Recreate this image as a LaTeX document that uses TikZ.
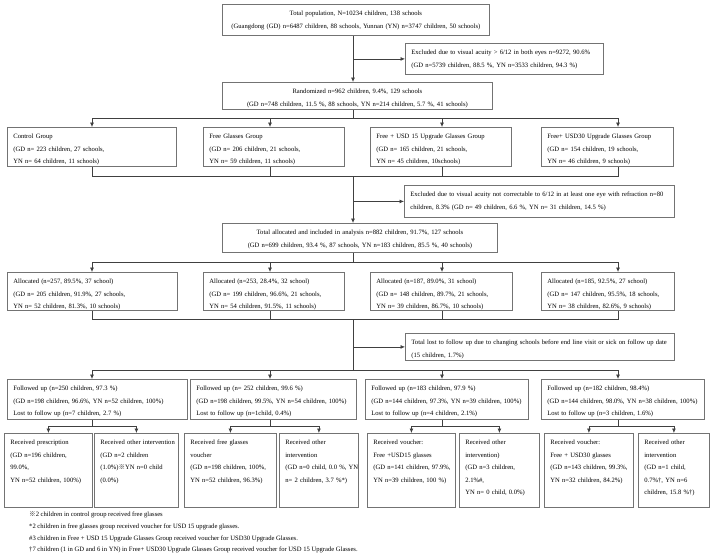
\documentclass[tikz,border=0pt]{standalone}
\usepackage{fontspec}
\setmainfont{Liberation Serif}
\newfontfamily\cjk{Noto Sans CJK SC}
\usetikzlibrary{arrows.meta}

\newcommand{\refmark}{{\cjk ※}}

\begin{document}
\begin{tikzpicture}[x=1pt,y=-1pt,
    box/.style={draw=black!55, line width=0.8pt, anchor=north west, align=left,
        font=\fontsize{6.6}{12.6}\selectfont, inner xsep=6pt, inner ysep=4.5pt,
        text height=6.5pt},
    cbox/.style={box, align=center},
    link/.style={draw=black!75, line width=0.7pt},
    arr/.style={link, -{Latex[length=4.5pt,width=4pt]}},
    note/.style={anchor=west, font=\fontsize{6.6}{12}\selectfont, inner sep=0pt}]
    \useasboundingbox (0,0) rectangle (714,552);

    % columns and rows of the connectors
    \coordinate (mid) at (353,0);
    \coordinate (colA) at (92,0);
    \coordinate (colB) at (270,0);
    \coordinate (colC) at (442,0);
    \coordinate (colD) at (618,0);
    \coordinate (s1) at (0,118);
    \coordinate (j1) at (0,176);
    \coordinate (s2) at (0,262);
    \coordinate (j2) at (0,319);
    \coordinate (s3) at (0,370);
    \coordinate (s4) at (0,426);

    % enrolment
    \node[cbox, text width=255pt, text depth=15.5pt] (pop) at (222,4)
        {Total population, N=10234 children, 138 schools\\
         \mbox{(Guangdong (GD) n=6487 children, 88 schools, Yunnan (YN) n=3747 children, 50 schools)}};
    \node[box, text width=186pt, text depth=15.5pt] (excl1) at (405,43)
        {\mbox{Excluded due to visual acuity > 6/12 in both eyes n=9272, 90.6\%}\\
         (GD n=5739 children, 88.5 \%, YN n=3533 children, 94.3 \%)};
    \node[cbox, text width=258pt, text depth=11.5pt] (rand) at (222,82)
        {Randomized n=962 children, 9.4\%, 129 schools\\
         \mbox{(GD n=748 children, 11.5 \%, 88 schools, YN n=214 children, 5.7 \%, 41 schools)}};

    % groups
    \node[box, text width=157pt, text depth=23.5pt] (ctrl) at (7,127)
        {Control Group\\(GD n= 223 children, 27 schools,\\YN n= 64 children, 11 schools)};
    \node[box, text width=129pt, text depth=23.5pt] (free) at (203,127)
        {Free Glasses Group\\(GD n= 206 children, 21 schools,\\YN n= 59 children, 11 schools)};
    \node[box, text width=129pt, text depth=23.5pt] (usd15) at (370,127)
        {Free + USD 15 Upgrade Glasses Group\\(GD n= 165 children, 21 schools,\\YN n= 45 children, 10schools)};
    \node[box, text width=120pt, text depth=23.5pt] (usd30) at (541,127)
        {Free+ USD30 Upgrade Glasses Group\\(GD n= 154 children, 19 schools,\\YN n= 46 children, 9 schools)};
    \node[box, text width=258pt, text depth=16.5pt] (excl2) at (404,185)
        {\mbox{Excluded due to visual acuity not correctable to 6/12 in at least one eye with refraction n=80}\\
         children, 8.3\% (GD n= 49 children, 6.6 \%, YN n= 31 children, 14.5 \%)};

    % allocation
    \node[cbox, text width=263pt, text depth=13.5pt] (total) at (222,223)
        {Total allocated and included in analysis n=882 children, 91.7\%, 127 schools\\
         \mbox{(GD n=699 children, 93.4 \%, 87 schools, YN n=183 children, 85.5 \%, 40 schools)}};
    \node[box, text width=158pt, text depth=22.5pt] (allocA) at (7,272)
        {Allocated (n=257, 89.5\%, 37 school)\\(GD n= 205 children, 91.9\%, 27 schools,\\YN n= 52 children, 81.3\%, 10 schools)};
    \node[box, text width=129pt, text depth=22.5pt] (allocB) at (203,272)
        {Allocated (n=253, 28.4\%, 32 school)\\\mbox{(GD n= 199 children, 96.6\%, 21 schools,}\\YN n= 54 children, 91.5\%, 11 schools)};
    \node[box, text width=130pt, text depth=22.5pt] (allocC) at (370,272)
        {Allocated (n=187, 89.0\%, 31 school)\\\mbox{(GD n= 148 children, 89.7\%, 21 schools,}\\YN n= 39 children, 86.7\%, 10 schools)};
    \node[box, text width=121pt, text depth=22.5pt] (allocD) at (541,272)
        {Allocated (n=185, 92.5\%, 27 school)\\\mbox{(GD n= 147 children, 95.5\%, 18 schools,}\\YN n= 38 children, 82.6\%, 9 schools)};
    \node[box, text width=257pt, text depth=11.5pt] (lost) at (405,333)
        {\mbox{Total lost to follow up due to changing schools before end line visit or sick on follow up date}\\
         (15 children, 1.7\%)};

    % follow up
    \node[box, text width=168pt, text depth=24.5pt] (folA) at (7,379)
        {Followed up (n=250 children, 97.3 \%)\\\mbox{(GD n=198 children, 96.6\%, YN n=52 children, 100\%)}\\Lost to follow up (n=7 children, 2.7 \%)};
    \node[box, text width=154pt, text depth=24.5pt] (folB) at (190,379)
        {Followed up (n= 252 children, 99.6 \%)\\\mbox{(GD n=198 children, 99.5\%, YN n=54 children, 100\%)}\\Lost to follow up (n=1child, 0.4\%)};
    \node[box, text width=151pt, text depth=24.5pt] (folC) at (365,379)
        {Followed up (n=183 children, 97.9 \%)\\\mbox{(GD n=144 children, 97.3\%, YN n=39 children, 100\%)}\\Lost to follow up (n=4 children, 2.1\%)};
    \node[box, text width=151pt, text depth=24.5pt] (folD) at (541,379)
        {Followed up (n=182 children, 98.4\%)\\\mbox{(GD n=144 children, 98.0\%, YN n=38 children, 100\%)}\\Lost to follow up (n=3 children, 1.6\%)};

    % outcomes
    \node[box, text width=76pt, text depth=58.5pt] (recA) at (4,433)
        {Received prescription\\(GD n=196 children,\\99.0\%,\\\mbox{YN n=52 children, 100\%)}};
    \node[box, text width=72pt, text depth=58.5pt] (othA) at (94,433)
        {\mbox{Received other intervention}\\(GD n=2 children\\\mbox{(1.0\%)\refmark YN n=0 child}\\(0.0\%)};
    \node[box, text width=80pt, text depth=58.5pt] (recB) at (184,433)
        {Received free glasses\\voucher\\\mbox{(GD n=198 children, 100\%,}\\\mbox{YN n=52 children, 96.3\%)}};
    \node[box, text width=67pt, text depth=58.5pt] (othB) at (279,433)
        {Received other\\intervention\\\mbox{(GD n=0 child, 0.0 \%, YN}\\\mbox{n= 2 children, 3.7 \%*)}};
    \node[box, text width=76pt, text depth=58.5pt] (recC) at (367,433)
        {Received voucher:\\Free +USD15 glasses\\\mbox{(GD n=141 children, 97.9\%,}\\\mbox{YN n=39 children, 100 \%)}};
    \node[box, text width=68pt, text depth=58.5pt] (othC) at (459,433)
        {Received other\\intervention)\\(GD n=3 children,\\2.1\%\#,\\\mbox{YN n= 0 child, 0.0\%)}};
    \node[box, text width=77pt, text depth=58.5pt] (recD) at (544,433)
        {Received voucher:\\\mbox{Free + USD30 glasses}\\\mbox{(GD n=143 children, 99.3\%,}\\\mbox{YN n=32 children, 84.2\%)}};
    \node[box, text width=59pt, text depth=58.5pt] (othD) at (638,433)
        {Received other\\intervention\\(GD n=1 child,\\\mbox{0.7\%†, YN n=6}\\\mbox{children, 15.8 \%†)}};

    % footnotes
    \node[note] (fnA) at (29,515) {\refmark 2 children in control group received free glasses};
    \node[note] (fnB) at (29,527) {*2 children in free glasses group received voucher for USD 15 upgrade glasses.};
    \node[note] (fnC) at (29,539) {\#3 children in Free + USD 15 Upgrade Glasses Group received voucher for USD30 Upgrade Glasses.};
    \node[note] (fnD) at (29,550) {†7 children (1 in GD and 6 in YN) in Free+ USD30 Upgrade Glasses Group received voucher for USD 15 Upgrade Glasses.};

    % connectors
    \draw[arr] (mid |- pop.south) -- (mid |- rand.north);
    \draw[arr] (mid |- excl1.west) -- (excl1.west);
    \draw[link] (mid |- rand.south) -- (mid |- s1);
    \draw[link] (colA |- s1) -- (colD |- s1);
    \draw[arr] (colA |- s1) -- (colA |- ctrl.north);
    \draw[arr] (colB |- s1) -- (colB |- free.north);
    \draw[arr] (colC |- s1) -- (colC |- usd15.north);
    \draw[arr] (colD |- s1) -- (colD |- usd30.north);

    \draw[link] (colA |- ctrl.south) -- (colA |- j1) -- (colD |- j1) -- (colD |- usd30.south);
    \draw[link] (colB |- free.south) -- (colB |- j1);
    \draw[link] (colC |- usd15.south) -- (colC |- j1);
    \draw[arr] (mid |- j1) -- (mid |- total.north);
    \draw[arr] (mid |- excl2.west) -- (excl2.west);

    \draw[link] (mid |- total.south) -- (mid |- s2);
    \draw[link] (colA |- s2) -- (colD |- s2);
    \draw[arr] (colA |- s2) -- (colA |- allocA.north);
    \draw[arr] (colB |- s2) -- (colB |- allocB.north);
    \draw[arr] (colC |- s2) -- (colC |- allocC.north);
    \draw[arr] (colD |- s2) -- (colD |- allocD.north);

    \draw[link] (colA |- allocA.south) -- (colA |- j2) -- (colD |- j2) -- (colD |- allocD.south);
    \draw[link] (colB |- allocB.south) -- (colB |- j2);
    \draw[link] (colC |- allocC.south) -- (colC |- j2);
    \draw[link] (mid |- j2) -- (mid |- s3);
    \draw[arr] (mid |- lost.west) -- (lost.west);
    \draw[link] (colA |- s3) -- (colD |- s3);
    \draw[arr] (colA |- s3) -- (colA |- folA.north);
    \draw[arr] (colB |- s3) -- (colB |- folB.north);
    \draw[arr] (colC |- s3) -- (colC |- folC.north);
    \draw[arr] (colD |- s3) -- (colD |- folD.north);

    \draw[link] (colA |- folA.south) -- (colA |- s4);
    \draw[link] (colB |- folB.south) -- (colB |- s4);
    \draw[link] (colC |- folC.south) -- (colC |- s4);
    \draw[link] (colD |- folD.south) -- (colD |- s4);
    \draw[arr] (recA.north |- s4) -- (recA.north);
    \draw[arr] (othA.north |- s4) -- (othA.north);
    \draw[link] (recA.north |- s4) -- (othA.north |- s4);
    \draw[arr] (recB.north |- s4) -- (recB.north);
    \draw[arr] (othB.north |- s4) -- (othB.north);
    \draw[link] (recB.north |- s4) -- (othB.north |- s4);
    \draw[arr] (recC.north |- s4) -- (recC.north);
    \draw[arr] (othC.north |- s4) -- (othC.north);
    \draw[link] (recC.north |- s4) -- (othC.north |- s4);
    \draw[arr] (recD.north |- s4) -- (recD.north);
    \draw[arr] (othD.north |- s4) -- (othD.north);
    \draw[link] (recD.north |- s4) -- (othD.north |- s4);
\end{tikzpicture}
\end{document}
